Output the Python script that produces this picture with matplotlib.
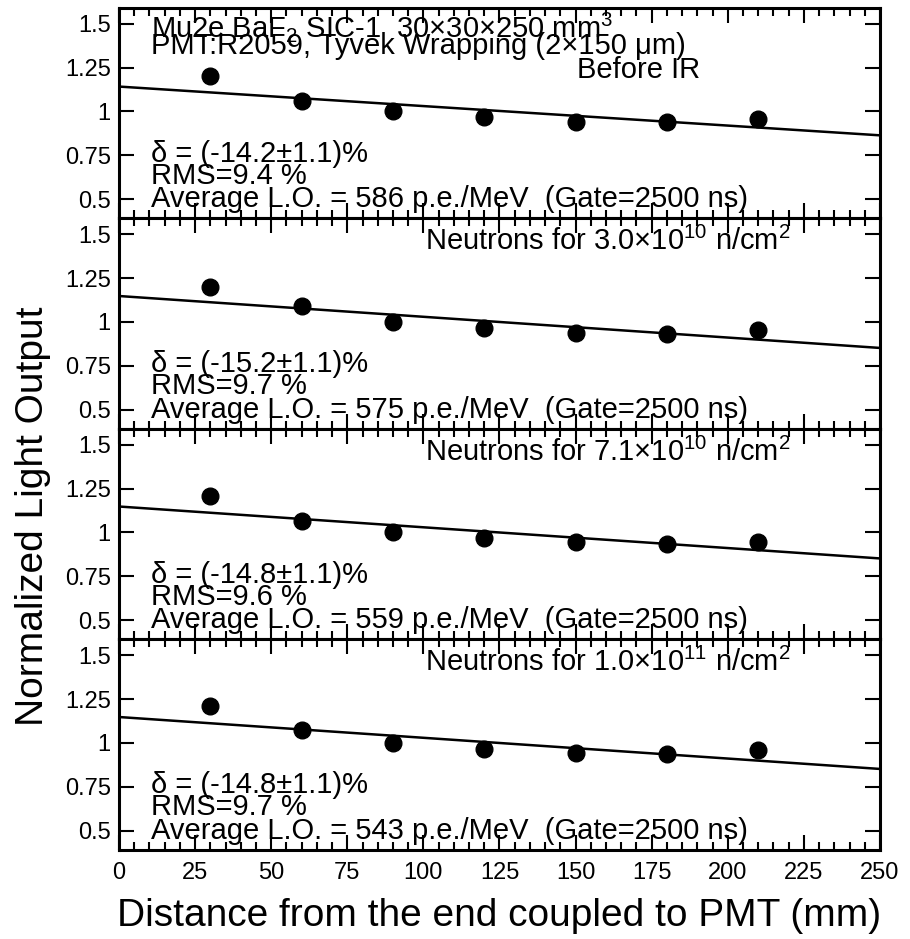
import numpy as np
import matplotlib
matplotlib.use("Agg")
import matplotlib.pyplot as plt
from matplotlib.ticker import MultipleLocator, FuncFormatter

plt.rcParams['font.family'] = ['Liberation Sans', 'DejaVu Sans']
plt.rcParams['mathtext.fontset'] = 'custom'
plt.rcParams['mathtext.rm'] = 'Liberation Sans'
plt.rcParams['mathtext.it'] = 'Liberation Sans'
plt.rcParams['mathtext.default'] = 'rm'

# distance of each measured point from the PMT end (mm)
position = [30, 60, 90, 120, 150, 180, 210]

# normalized light output per stage
lo_before = [1.205, 1.062, 1.0, 0.966, 0.94, 0.94, 0.955]
lo_3e10 = [1.199, 1.09, 1.0, 0.966, 0.94, 0.932, 0.955]
lo_7e10 = [1.21, 1.068, 1.0, 0.97, 0.943, 0.932, 0.943]
lo_1e11 = [1.21, 1.074, 1.0, 0.966, 0.943, 0.938, 0.96]

# linear fit, value at 0 mm and at 250 mm
fit_before = [1.142, 0.864]
fit_3e10 = [1.148, 0.852]
fit_7e10 = [1.148, 0.852]
fit_1e11 = [1.148, 0.852]
fit_x = [0, 250]

deltas = ['-14.2', '-15.2', '-14.8', '-14.8']
rms = ['9.4', '9.7', '9.6', '9.7']
avg_lo = [586, 575, 559, 543]
titles = [None,
          r'Neutrons for 3.0$\times$10$^{10}$ n/cm$^2$',
          r'Neutrons for 7.1$\times$10$^{10}$ n/cm$^2$',
          r'Neutrons for 1.0$\times$10$^{11}$ n/cm$^2$']

series = [lo_before, lo_3e10, lo_7e10, lo_1e11]
fits = [fit_before, fit_3e10, fit_7e10, fit_1e11]

fig = plt.figure(figsize=(9.1, 9.39), dpi=100)
gs = fig.add_gridspec(4, 1, left=0.1308, right=0.967, top=0.9915, bottom=0.0948, hspace=0)
axes = [fig.add_subplot(gs[i]) for i in range(4)]

fs = 21
for i, ax in enumerate(axes):
    ax.plot(position, series[i], 'ko', markersize=12)
    ax.plot(fit_x, fits[i], 'k-', linewidth=1.8)
    ax.set_xlim(0, 250)
    ax.set_ylim(0.39, 1.59)
    ax.xaxis.set_major_locator(MultipleLocator(25))
    ax.xaxis.set_minor_locator(MultipleLocator(5))
    ax.yaxis.set_major_locator(MultipleLocator(0.25))
    ax.yaxis.set_major_formatter(FuncFormatter(lambda v, p: '%g' % v))
    ax.tick_params(which='both', direction='in', top=True, right=True, width=1.5)
    ax.tick_params(which='major', length=11, labelsize=17)
    ax.tick_params(axis='x', which='minor', length=6)
    ax.tick_params(axis='y', which='major', pad=6)
    for s in ax.spines.values():
        s.set_linewidth(2.2)
    if i < 3:
        ax.tick_params(labelbottom=False)
    else:
        ax.tick_params(axis='x', pad=9)

    ax.text(10.5, 0.712, u'\u03b4 = (%s\u00b11.1)%%' % deltas[i], fontsize=fs, va='baseline')
    ax.text(10.5, 0.588, 'RMS=%s %%' % rms[i], fontsize=fs, va='baseline')
    ax.text(10.5, 0.455, 'Average L.O. = %d p.e./MeV  (Gate=2500 ns)' % avg_lo[i],
            fontsize=fs, va='baseline')
    if titles[i] is not None:
        ax.text(100.5, 1.41, titles[i], fontsize=fs, va='baseline')

ax0 = axes[0]
ax0.text(10.5, 1.425, r'Mu2e BaF$_2$ SIC-1  30$\times$30$\times$250 mm$^3$', fontsize=fs, va='baseline')
ax0.text(10.5, 1.33, u'PMT:R2059, Tyvek Wrapping (2\u00d7150 \u03bcm)', fontsize=fs, va='baseline')
ax0.text(150.5, 1.19, 'Before IR', fontsize=fs, va='baseline')

fig.text(0.5486, 0.0138, 'Distance from the end coupled to PMT (mm)', fontsize=28,
         ha='center', va='baseline')
fig.text(0.036, 0.45, 'Normalized Light Output', fontsize=28, rotation=90,
         ha='center', va='center')

fig.savefig('out.png', dpi=100)
